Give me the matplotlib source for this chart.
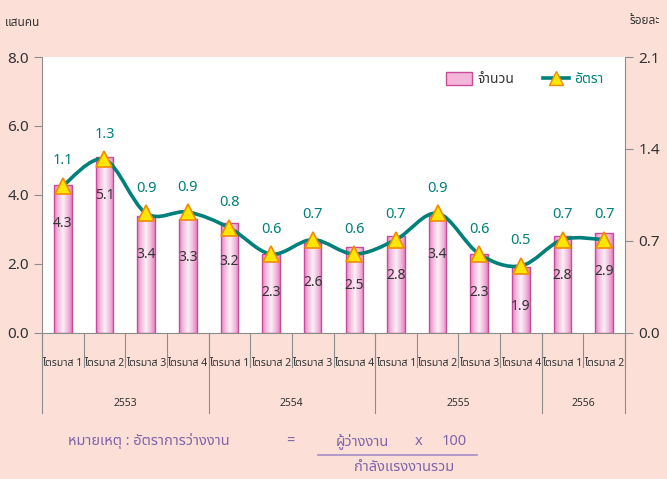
import numpy as np
import matplotlib
matplotlib.use("Agg")
import matplotlib.pyplot as plt
from matplotlib.path import Path
from matplotlib.patches import PathPatch, Patch
from matplotlib.lines import Line2D
import matplotlib.transforms as mtransforms

plt.rcParams['font.family'] = ['Noto Sans Thai', 'DejaVu Sans']

# data
quarters = ['ไตรมาส 1', 'ไตรมาส 2', 'ไตรมาส 3', 'ไตรมาส 4',
            'ไตรมาส 1', 'ไตรมาส 2', 'ไตรมาส 3', 'ไตรมาส 4',
            'ไตรมาส 1', 'ไตรมาส 2', 'ไตรมาส 3', 'ไตรมาส 4',
            'ไตรมาส 1', 'ไตรมาส 2']
years = ['2553', '2554', '2555', '2556']
year_counts = [4, 4, 4, 2]
unemployed = [4.3, 5.1, 3.4, 3.3, 3.2, 2.3, 2.6, 2.5, 2.8, 3.4, 2.3, 1.9, 2.8, 2.9]
rate = [1.12, 1.32, 0.91, 0.92, 0.80, 0.60, 0.71, 0.60, 0.71, 0.91, 0.60, 0.51, 0.71, 0.71]
rate_lbl = ['1.1', '1.3', '0.9', '0.9', '0.8', '0.6', '0.7', '0.6', '0.7', '0.9', '0.6', '0.5', '0.7', '0.7']

bg = '#FCE0D8'
teal = '#00807A'
pink_edge = '#C94C9C'
gray = '#8C8C8C'
txt = '#333333'

fig = plt.figure(figsize=(6.67, 4.79), dpi=100, facecolor=bg)
ax = fig.add_axes([0.063, 0.305, 0.874, 0.576])
ax2 = ax.twinx()

x = np.arange(len(unemployed))
bars = ax.bar(x, unemployed, width=0.42, facecolor='none', edgecolor=pink_edge,
              linewidth=1.0, zorder=3)

# pink -> white -> pink gradient inside each bar
grad = np.abs(np.linspace(-1, 1, 64))[None, :]
cmap = matplotlib.colors.LinearSegmentedColormap.from_list('pk', ['#FDEDF6', '#F5C0DF', '#E286C2'])
for b in bars:
    im = ax.imshow(grad, cmap=cmap, aspect='auto', zorder=2,
                   extent=[b.get_x(), b.get_x() + b.get_width(), 0, b.get_height()])
    im.set_clip_path(b)

for xi, v in zip(x, unemployed):
    ax.annotate(f'{v:.1f}', (xi, v), xytext=(0, -28), textcoords='offset points',
                ha='center', va='center', fontsize=10, color=txt, zorder=4)

ax.set_xlim(-0.5, len(x) - 0.5)
ax.set_ylim(0, 8)
ax.set_yticks([0, 2, 4, 6, 8])
ax.set_yticklabels(['0.0', '2.0', '4.0', '6.0', '8.0'])
ax.set_xticks([])

ax2.set_ylim(0, 2.1)
ax2.set_yticks([0, 0.7, 1.4, 2.1])
ax2.set_yticklabels(['0.0', '0.7', '1.4', '2.1'])

for a in (ax, ax2):
    a.set_facecolor('white')
    a.spines['top'].set_visible(False)
    for s in ['left', 'right', 'bottom']:
        a.spines[s].set_color(gray)
    a.tick_params(axis='y', colors=gray, labelcolor=txt, labelsize=11, length=6, direction='out')
ax.spines['right'].set_visible(False)
ax2.spines['left'].set_visible(False)
ax2.spines['bottom'].set_visible(False)
ax2.patch.set_visible(False)

# smooth rate line (bezier through the points)
pts = np.column_stack([x, rate])
verts = [pts[0]]
codes = [Path.MOVETO]
for i in range(len(pts) - 1):
    p0 = pts[max(i - 1, 0)]
    p1 = pts[i]
    p2 = pts[i + 1]
    p3 = pts[min(i + 2, len(pts) - 1)]
    verts += [p1 + (p2 - p0) / 6, p2 - (p3 - p1) / 6, p2]
    codes += [Path.CURVE4] * 3
ax2.add_patch(PathPatch(Path(verts, codes), facecolor='none', edgecolor=teal,
                        linewidth=2.6, zorder=5, capstyle='round'))
ax2.plot(x, rate, linestyle='none', marker='^', markersize=11,
         markerfacecolor='#FFE600', markeredgecolor='#F08A00', markeredgewidth=1.2, zorder=6)
for xi, v, l in zip(x, rate, rate_lbl):
    ax2.annotate(l, (xi, v), xytext=(0, 18), textcoords='offset points',
                 ha='center', va='center', fontsize=10.5, color=teal, zorder=7)

# legend
h_bar = Patch(facecolor='#F3B6DA', edgecolor=pink_edge, linewidth=1.0)
h_line = Line2D([], [], color=teal, linewidth=2.6, marker='^', markersize=10,
                markerfacecolor='#FFE600', markeredgecolor='#F08A00')
leg = ax2.legend([h_bar, h_line], ['จำนวน', 'อัตรา'], ncol=2, frameon=False,
                 loc='upper right', bbox_to_anchor=(0.985, 0.99), fontsize=10,
                 handlelength=1.9, handleheight=1.0, columnspacing=2.0, handletextpad=0.4)
leg.get_texts()[0].set_color(txt)
leg.get_texts()[1].set_color(teal)

# category axis: quarter labels and separators
trans = mtransforms.blended_transform_factory(ax.transData, ax.transAxes)
for xi, q in zip(x, quarters):
    ax.text(xi, -0.11, q, transform=trans, ha='center', va='center', fontsize=7.5, color=txt)
for b in np.arange(len(x) + 1) - 0.5:
    ax.plot([b, b], [0, -0.125], transform=trans, color=gray, linewidth=0.8, clip_on=False)
start = 0
for yr, n in zip(years, year_counts):
    lo, hi = start - 0.5, start + n - 0.5
    ax.plot([lo, lo], [0, -0.29], transform=trans, color=gray, linewidth=0.8, clip_on=False)
    ax.text((lo + hi) / 2, -0.255, yr, transform=trans, ha='center', va='center',
            fontsize=7.5, color=txt)
    start += n
ax.plot([len(x) - 0.5] * 2, [0, -0.29], transform=trans, color=gray, linewidth=0.8, clip_on=False)

# axis titles
fig.text(0.008, 0.953, 'แสนคน', fontsize=8.5, color=txt, ha='left', va='center')
fig.text(0.99, 0.958, 'ร้อยละ', fontsize=8.5, color=txt, ha='right', va='center')

# footnote
purple = '#7F64A8'
fig.text(0.102, 0.079, 'หมายเหตุ : อัตราการว่างงาน', fontsize=10.5, color=purple, ha='left', va='center')
fig.text(0.435, 0.079, '=', fontsize=10.5, color=purple, ha='center', va='center')
fig.text(0.543, 0.079, 'ผู้ว่างงาน', fontsize=10.5, color=purple, ha='center', va='center')
fig.text(0.627, 0.079, 'x', fontsize=10.5, color=purple, ha='center', va='center')
fig.text(0.681, 0.079, '100', fontsize=10.5, color=purple, ha='center', va='center')
fig.add_artist(Line2D([0.477, 0.715], [0.05, 0.05], color='#A68CC8', linewidth=1.2))
fig.text(0.606, 0.024, 'กำลังแรงงานรวม', fontsize=10.5, color=purple, ha='center', va='center')

fig.savefig('out.png', dpi=100, facecolor=bg)
